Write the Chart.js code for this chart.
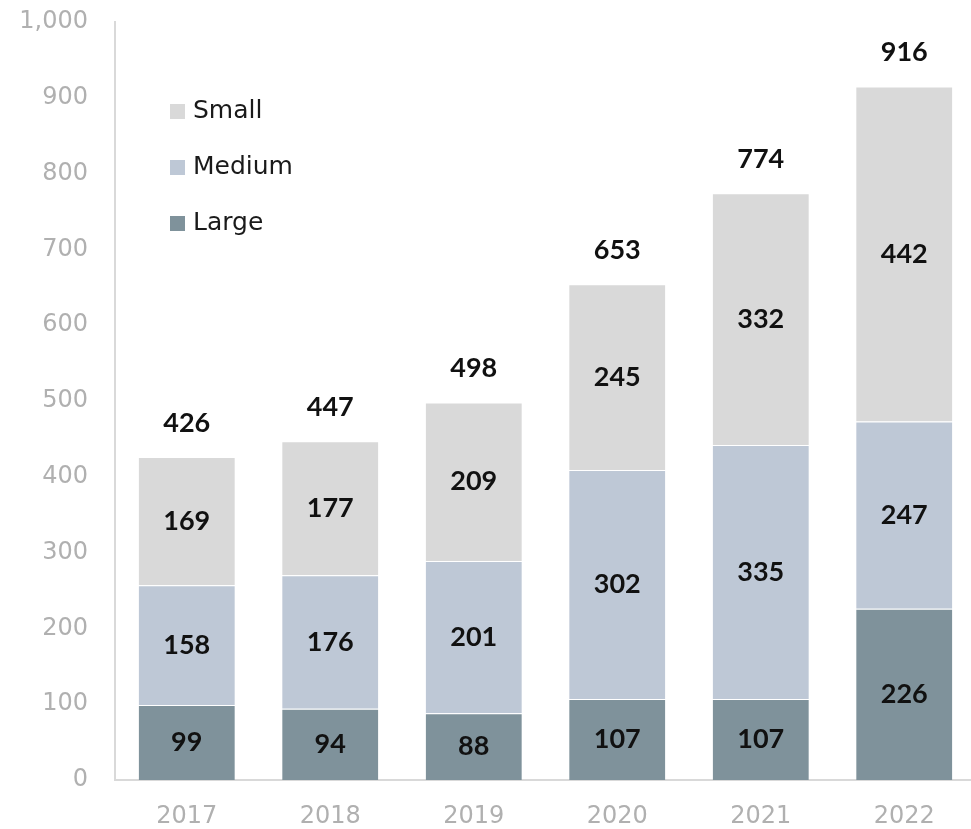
<!DOCTYPE html>
<html>
<head>
<meta charset="utf-8">
<script src="https://cdn.jsdelivr.net/npm/chart.js@4"></script>
<style>
  html, body { margin: 0; padding: 0; background: #fff; overflow: hidden; }
  #wrap { width: 976px; height: 829px; position: relative; }
</style>
</head>
<body>
<div id="wrap"><canvas id="chart"></canvas></div>
<script>
const years = ['2017', '2018', '2019', '2020', '2021', '2022'];
const large = [99, 94, 88, 107, 107, 226];
const medium = [158, 176, 201, 302, 335, 247];
const small = [169, 177, 209, 245, 332, 442];
const totals = [426, 447, 498, 653, 774, 916];

const FONT = '"DejaVu Sans", sans-serif';
const NUM_FONT = 'Lato, sans-serif';

// values inside each segment and totals on top
const barLabels = {
  id: 'barLabels',
  afterDatasetsDraw(chart) {
    const ctx = chart.ctx;
    ctx.save();
    ctx.fillStyle = '#111';
    ctx.font = 'bold 27px ' + NUM_FONT;
    ctx.textAlign = 'center';
    ctx.textBaseline = 'middle';
    chart.data.datasets.forEach((ds, i) => {
      chart.getDatasetMeta(i).data.forEach((bar, j) => {
        const y = (bar.y + bar.base) / 2;
        ctx.fillText(ds.data[j], bar.x, y);
      });
    });
    const top = chart.getDatasetMeta(chart.data.datasets.length - 1).data;
    top.forEach((bar, j) => {
      ctx.fillText(totals[j], bar.x, bar.y - 34);
    });
    ctx.restore();
  }
};

// legend drawn inside the plot, top-left
const insideLegend = {
  id: 'insideLegend',
  afterDraw(chart) {
    const ctx = chart.ctx;
    const order = [2, 1, 0];
    ctx.save();
    ctx.font = '25px ' + FONT;
    ctx.textBaseline = 'middle';
    order.forEach((idx, k) => {
      const ds = chart.data.datasets[idx];
      const y = 111 + k * 56;
      ctx.fillStyle = ds.backgroundColor;
      ctx.fillRect(170, y - 7, 15, 15);
      ctx.fillStyle = '#1a1a1a';
      ctx.fillText(ds.label, 193, y);
    });
    ctx.restore();
  }
};

new Chart(document.getElementById('chart'), {
  type: 'bar',
  data: {
    labels: years,
    datasets: [
      { label: 'Large', data: large, backgroundColor: '#7f929b' },
      { label: 'Medium', data: medium, backgroundColor: '#bec8d6' },
      { label: 'Small', data: small, backgroundColor: '#d9d9d9' }
    ]
  },
  options: {
    responsive: true,
    maintainAspectRatio: false,
    animation: false,
    layout: { padding: { top: 22, right: 0, bottom: 0, left: 0 } },
    datasets: {
      bar: {
        categoryPercentage: 1,
        barPercentage: 0.67,
        borderColor: '#ffffff',
        borderWidth: { top: 1, bottom: 0, left: 0, right: 0 },
        borderSkipped: false
      }
    },
    plugins: {
      legend: { display: false },
      tooltip: { enabled: false }
    },
    scales: {
      x: {
        stacked: true,
        grid: { display: false, drawTicks: false },
        border: { color: '#d9d9d9', width: 2 },
        ticks: { color: '#b0b0b0', font: { family: FONT, size: 24 }, padding: 22 },
        afterFit(scale) { scale.height = 49; }
      },
      y: {
        stacked: true,
        min: 0,
        max: 1000,
        grid: { display: false, drawTicks: false },
        border: { color: '#d9d9d9', width: 2 },
        ticks: {
          stepSize: 100,
          color: '#b0b0b0',
          padding: 27,
          font: { family: FONT, size: 24 },
          callback: v => v.toLocaleString('en-US')
        },
        afterFit(scale) {
          scale.width = 115;
          scale.paddingTop = 0;
          scale.paddingBottom = 0;
        }
      }
    }
  },
  plugins: [barLabels, insideLegend]
});
</script>
</body>
</html>
